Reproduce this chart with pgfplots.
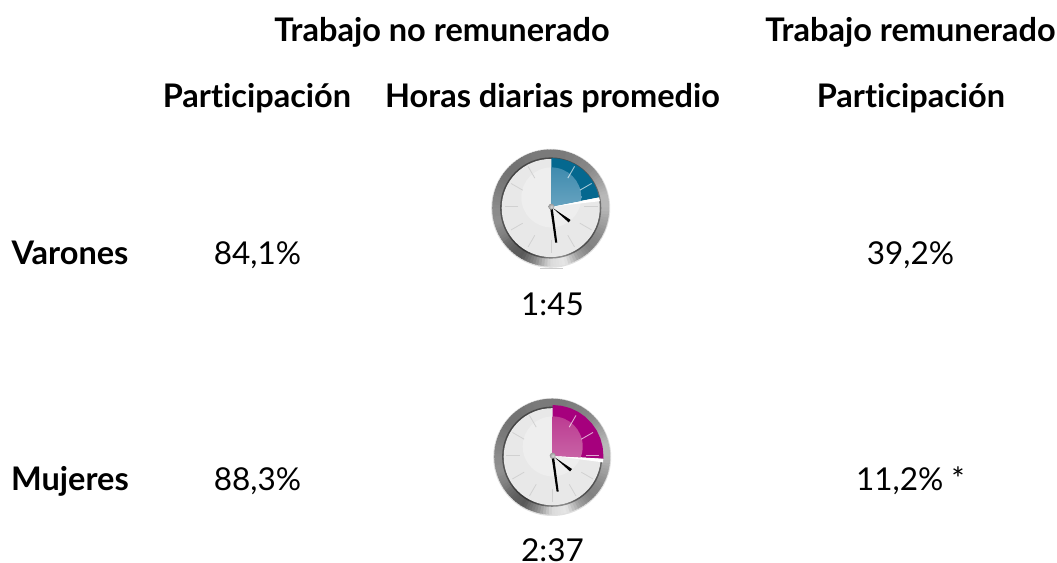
\documentclass[border=0pt]{standalone}
\usepackage{pgfplots}
\pgfplotsset{compat=1.18}
\usepackage{fontspec}
\setmainfont{Lato}[Ligatures=CommonOff]
\usetikzlibrary{calc}
\definecolor{bluedark}{HTML}{05688F}
\definecolor{magdark}{HTML}{A6007D}
\definecolor{facec}{HTML}{E8E8E8}
\definecolor{faceh}{HTML}{EEEEEE}
\definecolor{blueA}{HTML}{3F8BAE}
\definecolor{blueB}{HTML}{7CB0CA}
\definecolor{magA}{HTML}{BC3C92}
\definecolor{magB}{HTML}{CE74AE}
\pgfplotsset{base/.style={x=1pt,y=1pt,xmin=0,xmax=1057,ymin=0,ymax=562,hide axis,clip=false,anchor=south west,at={(0pt,0pt)}}}
% metal ring, face
\newcommand{\ringface}[3]{% cx cy R
  \fill[black!12] (#1,#2-0.3) circle (#3+1);
  \foreach \a/\g/\h in {0/72/72,15/72/62,30/62/54,45/54/50,60/50/48,75/48/47,90/47/48,105/48/46,120/46/44,135/44/46,150/46/50,165/50/54,180/54/56,195/56/50,210/50/38,225/38/34,240/34/55,255/55/85,270/85/90,285/90/62,300/62/50,315/50/54,330/54/62,345/62/72}{
    \foreach \s in {0,1,2,3,4}{
      \pgfmathtruncatemacro\k{100-(\g+(\h-\g)*(\s+0.5)/5)}
      \pgfmathsetmacro\st{\a+3*\s-0.4}
      \pgfmathsetmacro\en{\a+3*\s+3.4}
      \fill[black!\k] (#1,#2) -- ($(#1,#2)+(\st:#3)$) arc[start angle=\st,end angle=\en,radius=#3] -- cycle;
    }
  }
  \draw[black,opacity=.4,line width=1.8pt] (#1,#2) circle (#3-8.8);
  \fill[facec] (#1,#2) circle (#3-9.5);
}
\newcommand{\highlight}[7]{% cx cy r theta top bottom offset
  \begin{scope}
    \clip (#1,#2) -- ++(0,#3) arc[start angle=90,end angle=90-#4,radius=#3] -- cycle;
    \shade[top color=#5,bottom color=#6] (#1,#2+#7) circle (30);
  \end{scope}
}
\newcommand{\ticks}[3]{% cx cy sector-last-angle
  \foreach \a in {30,60,...,330}{
    \pgfmathtruncatemacro\inn{\a<#3?1:0}
    \ifnum\inn=1
      \draw[white,opacity=.65,line width=.9pt] ($(#1,#2)+({90-\a}:33)$) -- ($(#1,#2)+({90-\a}:46.5)$);
    \else
      \draw[black!18,line width=.8pt] ($(#1,#2)+({90-\a}:33)$) -- ($(#1,#2)+({90-\a}:46.5)$);
    \fi
  }
}
\newcommand{\fb}{\fontsize{32.5}{34}\selectfont\bfseries}
\newcommand{\fr}{\fontsize{31.5}{34}\selectfont}
\begin{document}
\begin{tikzpicture}[x=1pt,y=1pt]
\ringface{550.7}{354}{58.5}
\fill[faceh] (551.3,364.6) circle (30);
\ringface{552.2}{105.3}{58}
\fill[faceh] (552.7,115.6) circle (30);

\begin{axis}[base]
% sectors
\addplot[draw=none,fill=bluedark] coordinates {(551.3,355.3)(551.3,404.0)(559.75,403.26)(567.96,401.06)(575.65,397.48)(582.6,392.6)(588.6,386.6)(593.5,379.65)(597.06,371.96)(599.1,364.6)} -- cycle;
\addplot[draw=none,fill=magdark] coordinates {(552.7,106.3)(552.7,157.0)(561.5,156.2)(570.04,153.94)(578.05,150.2)(585.3,145.14)(591.54,138.9)(596.6,131.65)(600.34,123.64)(602.63,115.1)(603.4,106.3)(603.3,103.2)} -- cycle;
% white wedges beside the sectors
\addplot[draw=none,fill=white] coordinates {(551.3,355.3)(599.1,364.6)(599.9,360.8)} -- cycle;
\addplot[draw=none,fill=white] coordinates {(552.7,106.3)(603.3,103.2)(603.0,99.6)} -- cycle;
\end{axis}

\highlight{551.3}{355.3}{48.7}{79}{blueA}{blueB}{9.3}
\highlight{552.7}{106.3}{50.7}{93.5}{magA}{magB}{9.3}
\ticks{551.3}{355.3}{79}
\ticks{552.7}{106.3}{93.5}
\draw[black!20,line width=.8pt] (540,293.5) -- (563,293.5);

\begin{axis}[base]
% hands
\addplot[draw=none,fill=black] coordinates {(550.6,356.0)(568.6,339.6)(570.6,342.0)(552.2,354.4)} -- cycle;
\addplot[draw=none,fill=black] coordinates {(550.0,355.3)(555.2,319.3)(557.3,319.3)(552.5,355.3)} -- cycle;
\addplot[draw=none,fill=black] coordinates {(552.0,107.0)(570.0,90.6)(572.0,93.0)(553.6,105.4)} -- cycle;
\addplot[draw=none,fill=black] coordinates {(551.4,106.3)(556.6,70.3)(558.7,70.3)(553.9,106.3)} -- cycle;

\node[anchor=base,font=\fb] at (axis cs:442,520.5) {Trabajo no remunerado};
\node[anchor=base,font=\fb] at (axis cs:910.5,520.5) {Trabajo remunerado};
\node[anchor=base,font=\fb] at (axis cs:257,454.8) {Participación};
\node[anchor=base,font=\fb] at (axis cs:552.5,454.8) {Horas diarias promedio};
\node[anchor=base,font=\fb] at (axis cs:911,454.8) {Participación};
\node[anchor=base,font=\fb] at (axis cs:70,297.5) {Varones};
\node[anchor=base,font=\fb] at (axis cs:70,71.5) {Mujeres};
\node[anchor=base,font=\fr] at (axis cs:257.5,297.5) {84,1\%};
\node[anchor=base,font=\fr] at (axis cs:257.5,71.5) {88,3\%};
\node[anchor=base,font=\fr] at (axis cs:910.5,297.5) {39,2\%};
\node[anchor=base,font=\fr] at (axis cs:910.5,71.5) {11,2\% *};
\node[anchor=base,font=\fr] at (axis cs:552.5,246) {1:45};
\node[anchor=base,font=\fr] at (axis cs:552.5,0.8) {2:37};
\end{axis}
% pivots
\shade[inner color=black!15,outer color=black!40] (551.3,355.3) circle (3);
\shade[inner color=black!15,outer color=black!40] (552.7,106.3) circle (3);
\pgfresetboundingbox
\path (0,0) rectangle (1057,562);
\end{tikzpicture}
\end{document}
